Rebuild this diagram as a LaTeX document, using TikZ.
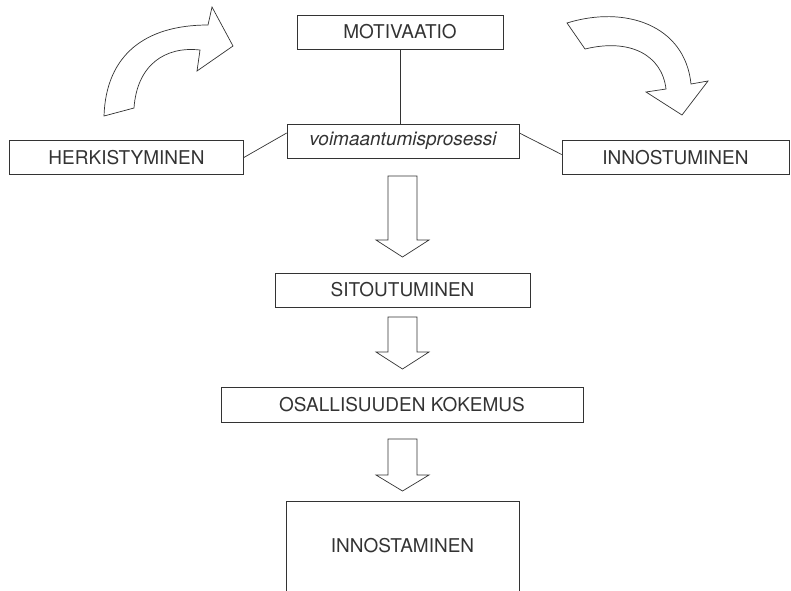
\documentclass[tikz,border=0pt]{standalone}
\usepackage{fontspec}
\setmainfont{TeX Gyre Heros}
\usetikzlibrary{calc}
\definecolor{ink}{HTML}{333333}
\tikzset{
  box/.style={draw=ink, line width=0.7pt, inner sep=0pt, text=ink,
    font=\fontsize{19}{22}\selectfont},
  conn/.style={draw=ink, line width=0.7pt},
  blockarrow/.style={draw=ink, line width=0.7pt, fill=white, line join=miter}
}
\begin{document}
\begin{tikzpicture}[x=1pt,y=-1pt]
\useasboundingbox (0,0) rectangle (791,590);
% boxes
\node[box, minimum width=206pt, minimum height=34pt] (mot) at (400,32) {MOTIVAATIO};
\node[box, minimum width=232pt, minimum height=34pt] (voim) at (403,141) {\itshape voimaantumisprosessi};
\node[box, minimum width=234pt, minimum height=34pt] (herk) at (126.5,157.5) {HERKISTYMINEN};
\node[box, minimum width=227pt, minimum height=34pt] (inno) at (675.5,157.5) {INNOSTUMINEN};
\node[box, minimum width=255pt, minimum height=34pt] (sito) at (402.5,290) {SITOUTUMINEN};
\node[box, minimum width=362pt, minimum height=35pt] (osal) at (402,405) {OSALLISUUDEN KOKEMUS};
\node[box, draw=none, minimum width=233pt, minimum height=20pt] (inst) at (402.5,546) {INNOSTAMINEN};
% open bottom box
\draw[conn] (286,592) -- (286,501) -- (519,501) -- (519,592);
% connectors
\draw[conn] (mot.south) -- (mot.south |- voim.north);
\draw[conn] (herk.east) -- ([yshift=8pt]voim.west);
\draw[conn] ([yshift=8pt]voim.east) -- ([yshift=3pt]inno.west);
% down block arrows
\draw[blockarrow] (388,176) -- (417,176) -- (417,240) -- (429,240) -- (402.5,257) -- (376,240) -- (388,240) -- cycle;
\draw[blockarrow] (388,317) -- (417,317) -- (417,352) -- (429,352) -- (402.5,369) -- (376,352) -- (388,352) -- cycle;
\draw[blockarrow] (388,439) -- (417,439) -- (417,475) -- (429,475) -- (402.5,491) -- (376,475) -- (388,475) -- cycle;
% curved arrows
\draw[blockarrow] (104,116) .. controls (106,55) and (145,25) .. (208,25)
  -- (212,7) -- (233,46) -- (197,71) -- (200,50)
  .. controls (165,46) and (137,65) .. (134,108) -- cycle;
\draw[blockarrow] (567,23) .. controls (625,5) and (685,25) .. (691,84)
  -- (708,81) -- (682,115) -- (646,92) -- (666,89)
  .. controls (662,55) and (630,38) .. (585,49) -- cycle;
\end{tikzpicture}
\end{document}
